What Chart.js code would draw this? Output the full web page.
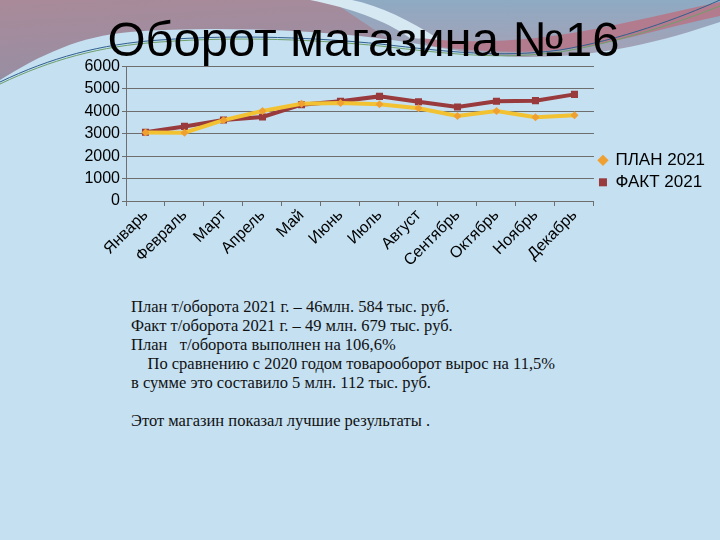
<!DOCTYPE html>
<html>
<head>
<meta charset="utf-8">
<script src="https://cdn.jsdelivr.net/npm/chart.js@4"></script>
<style>
  html, body { margin: 0; padding: 0; }
  body { width: 720px; height: 540px; position: relative; overflow: hidden; background: #c4e0f1; font-family: "Liberation Sans", Arial, sans-serif; }
  #deco { position: absolute; left: 0; top: 0; }
  #title { position: absolute; left: 0; width: 727px; top: 9px; text-align: center; font-size: 49px; line-height: 60px; color: #000; }
  #wrap { position: absolute; left: 60px; top: 55px; width: 655px; height: 223px; }
  #notes { position: absolute; left: 131px; top: 297px; font-family: "Liberation Serif", "DejaVu Serif", serif; font-size: 16.5px; line-height: 19px; color: #111; }
  #notes p { margin: 0; }
</style>
</head>
<body>
<svg id="deco" width="720" height="120" viewBox="0 0 720 120">
  <defs>
    <linearGradient id="gl" x1="0" y1="0" x2="0.3" y2="1">
      <stop offset="0" stop-color="#a98a99"/>
      <stop offset="0.55" stop-color="#9a8ea2"/>
      <stop offset="1" stop-color="#5f8fb0"/>
    </linearGradient>
    <linearGradient id="gr" x1="0" y1="0" x2="0" y2="1">
      <stop offset="0" stop-color="#8eaac3"/>
      <stop offset="1" stop-color="#a7a0b4"/>
    </linearGradient>
  </defs>
  <rect x="0" y="0" width="720" height="120" fill="url(#gl)"/>
  <path d="M330 0 H720 V60 H420 Z" fill="url(#gr)"/>
  <path d="M310 0 C350 8 385 20 410 38 L440 40 C410 20 380 6 352 0 Z" fill="#d6e8f2"/>
  <path d="M420 38 C480 45 540 40 600 28 C650 18 690 8 720 2 V16 C680 24 640 36 600 44 C540 56 480 52 430 46 Z" fill="#b27c8e"/>
  <path d="M0 80 C40 55 80 36 130 32 C210 26 300 30 360 36 C420 42 470 56 520 57 C600 58 660 42 720 22 V120 H0 Z" fill="#c4e0f1"/>
  <path d="M0 82 C50 58 100 44 160 40 C240 34 320 38 380 44 C450 52 500 58 560 50 C620 40 680 18 720 0" stroke="#2f5f8f" stroke-width="1" fill="none"/>
  <path d="M0 84 C50 60 100 46 160 42 C240 36 320 40 380 46 C450 54 500 60 560 52 C620 42 680 22 720 6" stroke="#6f9f6a" stroke-width="1" fill="none"/>
</svg>
<div id="title">Оборот магазина №16</div>
<div id="wrap"><canvas id="myChart"></canvas></div>
<div id="notes">
  <p>План т/оборота 2021 г. – 46млн. 584 тыс. руб.</p>
  <p>Факт т/оборота 2021 г. – 49 млн. 679 тыс. руб.</p>
  <p>План &nbsp; т/оборота выполнен на 106,6%</p>
  <p>&nbsp;&nbsp;&nbsp;&nbsp;По сравнению с 2020 годом товарооборот вырос на 11,5%</p>
  <p>в сумме это составило 5 млн. 112 тыс. руб.</p>
  <p>&nbsp;</p>
  <p>Этот магазин показал лучшие результаты .</p>
</div>
<script>
const months = ['Январь', 'Февраль', 'Март', 'Апрель', 'Май', 'Июнь', 'Июль', 'Август', 'Сентябрь', 'Октябрь', 'Ноябрь', 'Декабрь'];
const plan2021 = [3060, 3050, 3610, 4020, 4340, 4380, 4320, 4140, 3800, 4020, 3740, 3830];
const fact2021 = [3070, 3330, 3620, 3750, 4300, 4450, 4670, 4430, 4200, 4450, 4480, 4760];
const yTicks = [0, 1000, 2000, 3000, 4000, 5000, 6000];

var ctx = document.getElementById('myChart').getContext('2d');

var myChart = new Chart(ctx, {
    type: 'line',
    data: {
        labels: months,
        datasets: [{
            label: 'ПЛАН 2021',
            data: plan2021,
            borderColor: '#f2c232',
            backgroundColor: '#f0a030',
            borderWidth: 4,
            pointStyle: 'rectRot',
            pointRadius: 4,
            pointBorderWidth: 0,
            tension: 0
        }, {
            label: 'ФАКТ 2021',
            data: fact2021,
            borderColor: '#993a3c',
            backgroundColor: '#993a3c',
            borderWidth: 4,
            pointStyle: 'rect',
            pointRadius: 5,
            pointBorderWidth: 0,
            tension: 0
        }]
    },
    options: {
        responsive: true,
        maintainAspectRatio: false,
        animation: false,
        layout: { padding: { left: 0, right: 0, top: 0, bottom: 0 } },
        plugins: {
            legend: {
                position: 'right',
                title: { display: true, text: '', font: { size: 8 }, padding: 0 },
                labels: {
                    usePointStyle: true,
                    boxWidth: 8,
                    boxHeight: 8,
                    padding: 5,
                    color: '#000',
                    font: { family: '"Liberation Sans", Arial, sans-serif', size: 17 }
                }
            },
            tooltip: { enabled: false }
        },
        scales: {
            y: {
                min: 0,
                max: 6000,
                afterBuildTicks: (axis) => { axis.ticks = yTicks.map(v => ({ value: v })); },
                afterFit: (axis) => { axis.width = 66; },
                grid: { color: '#6e6e6e', lineWidth: 1, tickLength: 4, drawTicks: true },
                border: { color: '#6e6e6e' },
                ticks: {
                    color: '#000',
                    padding: 2,
                    callback: (v) => String(v),
                    font: { family: '"Liberation Sans", Arial, sans-serif', size: 16 }
                }
            },
            x: {
                offset: true,
                afterFit: (axis) => { axis.height = 77; },
                grid: { display: true, drawOnChartArea: false, color: '#6e6e6e', tickLength: 5, offset: true },
                border: { color: '#6e6e6e' },
                ticks: {
                    color: '#000',
                    maxRotation: 45,
                    minRotation: 45,
                    autoSkip: false,
                    padding: 0,
                    font: { family: '"Liberation Sans", Arial, sans-serif', size: 16 }
                }
            }
        }
    }
});
</script>
</body>
</html>
